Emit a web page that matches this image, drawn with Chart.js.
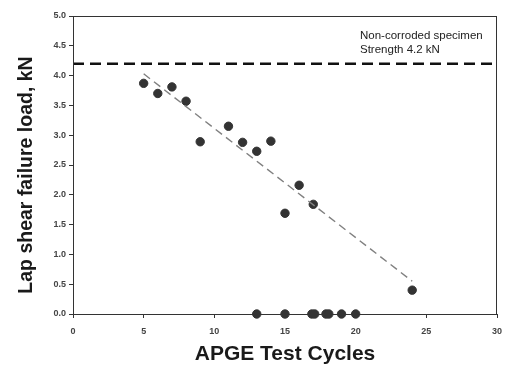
<!DOCTYPE html>
<html>
<head>
<meta charset="utf-8">
<script src="https://cdn.jsdelivr.net/npm/chart.js@4"></script>
<style>
  body { margin: 0; background: #fff; }
</style>
</head>
<body>
<canvas id="chart" width="505" height="372"></canvas>
<script>
// measured specimens: cycles vs lap shear failure load (kN)
const cycles = [5, 6, 7, 8, 9, 11, 12, 13, 14, 15, 16, 17, 24, 13, 15, 16.9, 17.1, 17.9, 18.1, 19, 20];
const loads  = [3.87, 3.70, 3.81, 3.57, 2.89, 3.15, 2.88, 2.73, 2.90, 1.69, 2.16, 1.84, 0.40, 0, 0, 0, 0, 0, 0, 0, 0];

// fitted trend
const trendX = [5, 24];
const trendY = [4.03, 0.55];

// non-corroded specimen strength
const refX = [0, 30];
const refY = [4.2, 4.2];

const noteLines = ['Non-corroded specimen', 'Strength 4.2 kN'];

const toXY = (xs, ys) => xs.map((x, i) => ({ x: x, y: ys[i] }));

// box round the plot + note text + y title
const extras = {
  id: 'extras',
  afterDraw(chart) {
    const ctx = chart.ctx;
    const a = chart.chartArea;
    ctx.save();
    ctx.strokeStyle = '#333';
    ctx.lineWidth = 1;
    ctx.strokeRect(a.left + 0.5, a.top + 0.5, a.right - a.left - 1, a.bottom - a.top);

    ctx.fillStyle = '#222';
    ctx.font = '11.5px Arial, "Liberation Sans", sans-serif';
    ctx.textBaseline = 'middle';
    ctx.fillText(noteLines[0], 360, 36);
    ctx.fillText(noteLines[1], 360, 50);

    ctx.translate(27, 175);
    ctx.rotate(-Math.PI / 2);
    ctx.textAlign = 'center';
    ctx.font = 'bold 19.5px Arial, "Liberation Sans", sans-serif';
    ctx.fillStyle = '#1a1a1a';
    ctx.fillText('Lap shear failure load, kN', 0, 0);
    ctx.restore();
  }
};

new Chart(document.getElementById('chart'), {
  type: 'scatter',
  data: {
    datasets: [
      {
        label: 'Non-corroded',
        data: toXY(refX, refY),
        showLine: true,
        borderColor: '#111',
        borderWidth: 2.5,
        borderDash: [11, 6],
        pointRadius: 0
      },
      {
        label: 'Trend',
        data: toXY(trendX, trendY),
        showLine: true,
        borderColor: '#808080',
        borderWidth: 1.4,
        borderDash: [8, 5],
        pointRadius: 0
      },
      {
        label: 'Specimens',
        data: toXY(cycles, loads),
        backgroundColor: '#333',
        borderColor: '#333',
        pointRadius: 4.2,
        clip: false
      }
    ]
  },
  options: {
    responsive: false,
    animation: false,
    layout: { padding: { left: 0, top: 16, right: 8, bottom: 0 } },
    plugins: { legend: { display: false }, tooltip: { enabled: false } },
    scales: {
      x: {
        type: 'linear',
        min: 0, max: 30,
        afterFit: s => { s.height = 58; s.paddingLeft = 0; s.paddingRight = 0; },
        ticks: {
          stepSize: 5,
          padding: 8,
          color: '#444',
          font: { size: 9, weight: 'bold', family: 'Arial, "Liberation Sans", sans-serif' }
        },
        grid: { drawOnChartArea: false, tickLength: 4, color: '#333' },
        border: { color: '#333' },
        title: {
          display: true,
          text: 'APGE Test Cycles',
          color: '#1a1a1a',
          font: { size: 21, weight: 'bold', family: 'Arial, "Liberation Sans", sans-serif' },
          padding: { top: 0, bottom: 5 }
        }
      },
      y: {
        min: 0, max: 5,
        afterFit: s => { s.width = 73; },
        ticks: {
          stepSize: 0.5,
          padding: 3,
          color: '#444',
          callback: v => v.toFixed(1),
          font: { size: 9, weight: 'bold', family: 'Arial, "Liberation Sans", sans-serif' }
        },
        grid: { drawOnChartArea: false, tickLength: 4, color: '#333' },
        border: { color: '#333' }
      }
    }
  },
  plugins: [extras]
});
</script>
</body>
</html>
